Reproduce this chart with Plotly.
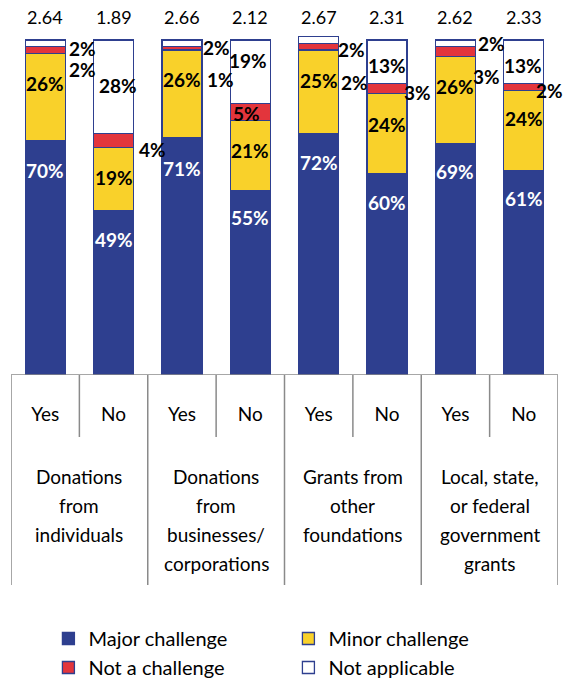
import plotly.graph_objects as go

# Funding sources (outer level) and whether the organisation receives them (inner level)
groups = [
    "Donations<br>from<br>individuals",
    "Donations<br>from<br>businesses/<br>corporations",
    "Grants from<br>other<br>foundations",
    "Local, state,<br>or federal<br>government<br>grants",
]
answers = ["Yes", "No", "Yes", "No", "Yes", "No", "Yes", "No"]
mean_scores = [2.64, 1.89, 2.66, 2.12, 2.67, 2.31, 2.62, 2.33]

# Percent of respondents in each response category
major = [70, 49, 71, 55, 72, 60, 69, 61]
minor = [26, 19, 26, 21, 25, 24, 26, 24]
not_challenge = [2, 4, 1, 5, 2, 3, 3, 2]
not_applicable = [2, 28, 2, 19, 2, 13, 2, 13]

FONT = "Lato, 'Open Sans', sans-serif"
BLUE = "#2E3F8F"
YELLOW = "#F9D12A"
RED = "#E3353C"
WHITE = "#FFFFFF"
GRID = "#8A8A8A"

W, H = 563, 679
PX_TOP, PX_ZERO = 40, 375          # pixel rows of 100% and 0%
Y_MAX = 101.2
px_per_unit = (PX_ZERO - PX_TOP) / 100.0
px_ymax = PX_ZERO - Y_MAX * px_per_unit
y_dom = [(H - PX_ZERO) / H, (H - px_ymax) / H]
x_dom = [11 / W, 558 / W]

def paper_y(px):
    return (H - px) / H

series = [
    ("Major challenge", major, BLUE, "white"),
    ("Minor challenge", minor, YELLOW, "black"),
    ("Not a challenge", not_challenge, RED, "black"),
    ("Not applicable", not_applicable, WHITE, "black"),
]

# Label placement (dx, dy in px) relative to each segment's top edge at bar centre
label_offsets = {
    "Major challenge": [(0, 29.5), (0, 29), (0, 31), (0, 27), (0, 29), (0, 28), (0, 28), (0, 28)],
    "Minor challenge": [(0, 30), (0, 30), (0, 29), (0, 30), (0, 30), (0, 31), (0, 30), (0, 28)],
    "Not a challenge": [(37, 23), (39, 16), (39, 33), (-4, 10), (36, 39), (30.5, 8.5), (31.5, 30), (26, 6.5)],
    "Not applicable": [(37, 8), (4, 45), (35, 7), (-2, 20), (33, 13), (0, 25), (36.5, 3), (-1, 25)],
}

xs = list(range(len(answers)))
fig = go.Figure()
annotations = []
cum = [0.0] * len(xs)
for name, vals, color, tcolor in series:
    fig.add_trace(go.Bar(
        x=xs, y=vals, name=name, width=0.585,
        marker=dict(color=color, line=dict(color=BLUE, width=1.3)),
    ))
    for i, v in enumerate(vals):
        cum[i] += v
        dx, dy = label_offsets[name][i]
        annotations.append(dict(
            x=xs[i], y=cum[i], xref="x", yref="y", text=f"{v}%",
            showarrow=False, xshift=dx, yshift=-dy,
            xanchor="center", yanchor="middle",
            font=dict(family=FONT, size=19, color=tcolor, weight="bold"),
        ))

# Mean score above each bar
for i, m in enumerate(mean_scores):
    annotations.append(dict(
        x=xs[i], y=paper_y(17), xref="x", yref="paper", text=f"{m:.2f}",
        showarrow=False, xanchor="center", yanchor="middle",
        font=dict(family=FONT, size=18, color="black"),
    ))

# Outer category labels, one line at a time
for g, gtext in enumerate(groups):
    for k, line in enumerate(gtext.split("<br>")):
        annotations.append(dict(
            x=2 * g + 0.5, y=paper_y(477 + 28.7 * k), xref="x", yref="paper",
            text=line, showarrow=False, xanchor="center", yanchor="middle",
            font=dict(family=FONT, size=19, color="black"),
        ))

# Category axis frame lines
shapes = [dict(type="line", xref="x", yref="y", x0=-0.5, x1=7.5, y0=0, y1=0,
               line=dict(color=GRID, width=1.5))]
for b in range(0, 9):
    xb = b - 0.5
    bottom = 585 if b % 2 == 0 else 437
    shapes.append(dict(type="line", xref="x", yref="paper", x0=xb, x1=xb,
                       y0=y_dom[0], y1=paper_y(bottom),
                       line=dict(color=GRID, width=1.5)))

fig.update_layout(
    width=W, height=H,
    margin=dict(l=0, r=0, t=0, b=0, autoexpand=False),
    paper_bgcolor="white", plot_bgcolor="white",
    barmode="stack",
    font=dict(family=FONT, color="black"),
    xaxis=dict(domain=x_dom, range=[-0.5, 7.5], tickvals=xs, ticktext=answers,
               showgrid=False, zeroline=False, showline=False, ticks="",
               ticklabelstandoff=26, tickfont=dict(family=FONT, size=19, color="black")),
    yaxis=dict(domain=y_dom, range=[0, Y_MAX], visible=False),
    annotations=annotations,
    shapes=shapes,
    showlegend=True,
    legend=dict(orientation="h", traceorder="normal", x=0.086, xanchor="left",
                y=-8 / H, yanchor="bottom", entrywidth=195, entrywidthmode="pixels",
                font=dict(family=FONT, size=20, color="black"), bgcolor="rgba(0,0,0,0)"),
)

fig.write_html("out.html")
